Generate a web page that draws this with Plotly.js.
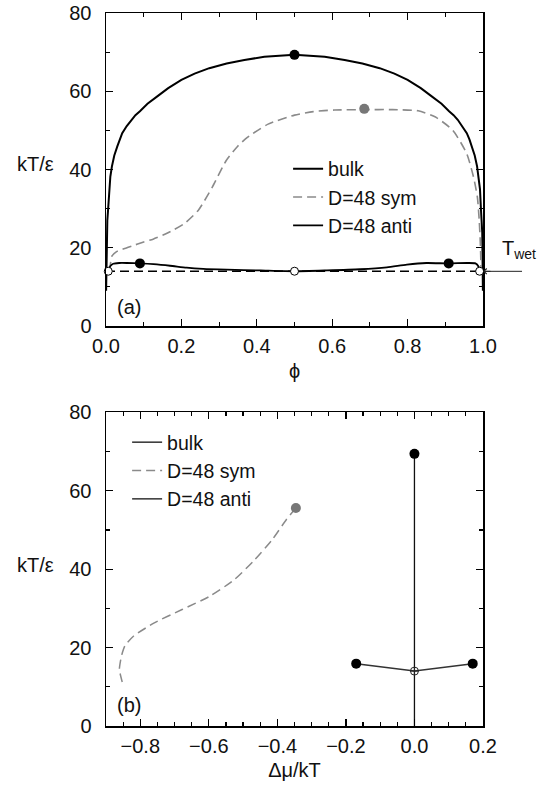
<!DOCTYPE html>
<html><head><meta charset="utf-8">
<script src="https://cdn.plot.ly/plotly-3.0.1.min.js"></script>
<style>html,body{margin:0;padding:0;background:#fff}</style>
</head><body><div id="chart" style="width:546px;height:785px"></div>
<script>
// ---------- panel (a): T vs phi ----------
const bulkPhi = [0.0003,0.001,0.002,0.0035,0.005,0.008,0.0115,0.0157,0.022,0.03,0.036,0.043,0.055,0.067,0.078,0.09,0.11,0.136,0.165,0.2,0.235,0.274,0.32,0.367,0.42,0.5,
                 0.58,0.633,0.68,0.726,0.765,0.8,0.835,0.864,0.89,0.91,0.922,0.933,0.945,0.957,0.964,0.97,0.978,0.9843,0.9885,0.992,0.995,0.9965,0.998,0.999,0.9997];
const bulkT   = [9,16,23.9,27,29,35,38.2,40.8,43.6,45.9,47.7,49.3,51.1,52.7,53.9,54.9,56.8,58.7,60.8,62.9,64.5,65.9,67.1,68,68.8,69.3,
                 68.8,68,67.1,65.9,64.5,62.9,60.8,58.7,56.8,54.9,53.9,52.7,51.1,49.3,47.7,45.9,43.6,40.8,38.2,35,29,27,23.9,16,9];
const symPhi = [0.0096,0.016,0.028,0.043,0.07,0.098,0.125,0.153,0.18,0.208,0.245,0.282,0.319,0.35,0.375,0.43,0.5,0.55,0.606,0.685,0.76,0.828,0.874,0.92,0.957,0.975,0.985,0.99,0.993,0.995];
const symT   = [14.1,17.9,19,19.6,20.5,21.4,22.2,23.3,24.6,26.2,29.6,35.5,42.3,46,48.2,51.6,53.9,54.8,55.2,55.3,55.3,55.0,53.4,50,44,38,33,27,21,14.0];
const antiPhi = [0.006,0.011,0.019,0.035,0.055,0.09,0.126,0.17,0.214,0.258,0.32,0.41,0.5,0.586,0.674,0.745,0.798,0.85,0.909,0.958,0.98,0.988,0.991];
const antiT   = [14.0,15.25,15.9,16.1,16.1,16.0,15.8,15.4,14.9,14.6,14.4,14.2,14.0,14.2,14.5,15.0,15.7,16.1,16.0,16.1,16.0,15.2,14.0];
const twetPhi = [0,1];
const twetT   = [14.0,14.0];
const aFilledPhi = [0.09,0.909,0.5];
const aFilledT   = [16.0,16.0,69.3];
const aOpenPhi = [0.006,0.5,0.991];
const aOpenT   = [14.0,14.0,14.0];
const aSymCritPhi = [0.685];
const aSymCritT   = [55.5];

// ---------- panel (b): T vs delta mu ----------
const bBulkMu = [0,0];
const bBulkT  = [0,69.4];
const bSymMu = [-0.346,-0.374,-0.415,-0.466,-0.526,-0.597,-0.678,-0.759,-0.82,-0.845,-0.855,-0.861,-0.857,-0.852];
const bSymT  = [55.6,52.6,47.5,42.4,37.3,33.1,29.7,26.3,22.9,20.4,17.8,14.4,12.7,11.0];
const bAntiMu = [-0.17,0,0.17];
const bAntiT  = [15.9,14.0,15.9];
const bFilledMu = [-0.17,0.17,0];
const bFilledT  = [15.9,15.9,69.4];
const bOpenMu = [0];
const bOpenT  = [14.0];
const bSymCritMu = [-0.346];
const bSymCritT  = [55.6];

const legendNames = ['bulk','D=48 sym','D=48 anti'];
const xTicksA = [0,0.2,0.4,0.6,0.8,1.0];
const xTickTextA = ['0.0','0.2','0.4','0.6','0.8','1.0'];
const xTicksB = [-0.8,-0.6,-0.4,-0.2,0.0,0.2];
const xTickTextB = ['\u22120.8','\u22120.6','\u22120.4','\u22120.2','0.0','0.2'];
const yTicks = [0,20,40,60,80];

const gray = '#8a8a8a';
const traces = [
  {x:bulkPhi,y:bulkT,mode:'lines',name:legendNames[0],line:{color:'#000',width:2},xaxis:'x',yaxis:'y',legend:'legend'},
  {x:symPhi,y:symT,mode:'lines',name:legendNames[1],line:{color:gray,width:1.6,dash:'9px,5px',shape:'spline',smoothing:0.6},xaxis:'x',yaxis:'y',legend:'legend'},
  {x:antiPhi,y:antiT,mode:'lines',name:legendNames[2],line:{color:'#000',width:1.8,shape:'spline',smoothing:0.6},xaxis:'x',yaxis:'y',legend:'legend'},
  {x:twetPhi,y:twetT,mode:'lines',showlegend:false,line:{color:'#000',width:1.5,dash:'9px,5px'},xaxis:'x',yaxis:'y'},
  {x:aOpenPhi,y:aOpenT,mode:'markers',showlegend:false,marker:{symbol:'circle',size:8,color:'#fff',line:{color:'#000',width:1}},xaxis:'x',yaxis:'y',cliponaxis:false},
  {x:aFilledPhi,y:aFilledT,mode:'markers',showlegend:false,marker:{symbol:'circle',size:10,color:'#000'},xaxis:'x',yaxis:'y'},
  {x:aSymCritPhi,y:aSymCritT,mode:'markers',showlegend:false,marker:{symbol:'circle',size:10,color:'#777'},xaxis:'x',yaxis:'y'},

  {x:bBulkMu,y:bBulkT,mode:'lines',name:legendNames[0],line:{color:'#111',width:1.3},xaxis:'x2',yaxis:'y2',legend:'legend2'},
  {x:bSymMu,y:bSymT,mode:'lines',name:legendNames[1],line:{color:gray,width:1.5,dash:'9px,5px',shape:'spline',smoothing:0.6},xaxis:'x2',yaxis:'y2',legend:'legend2'},
  {x:bAntiMu,y:bAntiT,mode:'lines',name:legendNames[2],line:{color:'#333',width:1.5},xaxis:'x2',yaxis:'y2',legend:'legend2'},
  {x:bOpenMu,y:bOpenT,mode:'markers',showlegend:false,marker:{symbol:'circle-cross-open',size:8,color:'#222',line:{width:1}},xaxis:'x2',yaxis:'y2'},
  {x:bFilledMu,y:bFilledT,mode:'markers',showlegend:false,marker:{symbol:'circle',size:10,color:'#000'},xaxis:'x2',yaxis:'y2'},
  {x:bSymCritMu,y:bSymCritT,mode:'markers',showlegend:false,marker:{symbol:'circle',size:10,color:'#777'},xaxis:'x2',yaxis:'y2'}
];

const font = {family:'"Liberation Sans", Arial, sans-serif', size:20, color:'#111'};
const lfont = {family:'"Liberation Sans", Arial, sans-serif', size:19.5, color:'#111'};
function axisCommon(){
  return {showgrid:false,zeroline:false,showline:true,linecolor:'#000',linewidth:1.5,mirror:'allticks',
          ticks:'inside',ticklen:7,tickwidth:1.2,tickcolor:'#000',tickfont:font};
}
const twetPaperY = 0.6377;
const layout = {
  width:546,height:785,
  margin:{l:106,r:63,t:13,b:59},
  paper_bgcolor:'#fff',plot_bgcolor:'#fff',
  font:font,
  xaxis:Object.assign(axisCommon(),{domain:[0,1],range:[0,1],tickvals:xTicksA,ticktext:xTickTextA,anchor:'y',
        minor:{dtick:0.1,tick0:0,ticklen:4,tickcolor:'#000',ticks:'inside'},ticklabelstandoff:1,
        title:{text:'\u03d5',font:font,standoff:8}}),
  yaxis:Object.assign(axisCommon(),{domain:[0.561,1],range:[0,80],tickvals:yTicks,anchor:'x',ticklabelstandoff:9,
        minor:{dtick:10,tick0:0,ticklen:4,tickcolor:'#000',ticks:'inside'}}),
  xaxis2:Object.assign(axisCommon(),{domain:[0,1],range:[-0.9,0.2],tickvals:xTicksB,ticktext:xTickTextB,anchor:'y2',
        minor:{dtick:0.05,tick0:0,ticklen:4,tickcolor:'#000',ticks:'inside'},ticklabelstandoff:1,
        title:{text:'\u0394\u03bc/kT',font:font,standoff:7}}),
  yaxis2:Object.assign(axisCommon(),{domain:[0,0.44],range:[0,80],tickvals:yTicks,anchor:'x2',ticklabelstandoff:9,
        minor:{dtick:10,tick0:0,ticklen:4,tickcolor:'#000',ticks:'inside'}}),
  legend:{x:0.483,y:0.8086,xanchor:'left',yanchor:'top',bgcolor:'rgba(0,0,0,0)',font:lfont,tracegroupgap:0},
  legend2:{x:0.056,y:0.425,xanchor:'left',yanchor:'top',bgcolor:'rgba(0,0,0,0)',font:lfont,tracegroupgap:0},
  showlegend:true,
  shapes:[
    {type:'line',xref:'paper',yref:'paper',x0:1.0,x1:1.1035,y0:twetPaperY,y1:twetPaperY,line:{color:'#222',width:1}}
  ],
  annotations:[
    {xref:'paper',yref:'paper',x:-0.188,y:0.788,text:'kT/\u03b5',showarrow:false,font:font,xanchor:'center',yanchor:'middle'},
    {xref:'paper',yref:'paper',x:-0.188,y:0.226,text:'kT/\u03b5',showarrow:false,font:font,xanchor:'center',yanchor:'middle'},
    {xref:'x',yref:'y',x:0.061,y:4.8,text:'(a)',showarrow:false,font:font},
    {xref:'x2',yref:'y2',x:-0.833,y:5.3,text:'(b)',showarrow:false,font:font},
    {xref:'paper',yref:'paper',x:1.0,y:twetPaperY,ax:9,ay:0,text:'',showarrow:true,arrowhead:4,arrowsize:1.1,arrowwidth:1,arrowcolor:'#222'},
    {xref:'paper',yref:'paper',x:1.095,y:0.668,text:'T<sub>wet</sub>',showarrow:false,font:font,xanchor:'center',yanchor:'middle'}
  ]
};
Plotly.newPlot('chart',traces,layout,{displayModeBar:false,staticPlot:true});
</script></body></html>
